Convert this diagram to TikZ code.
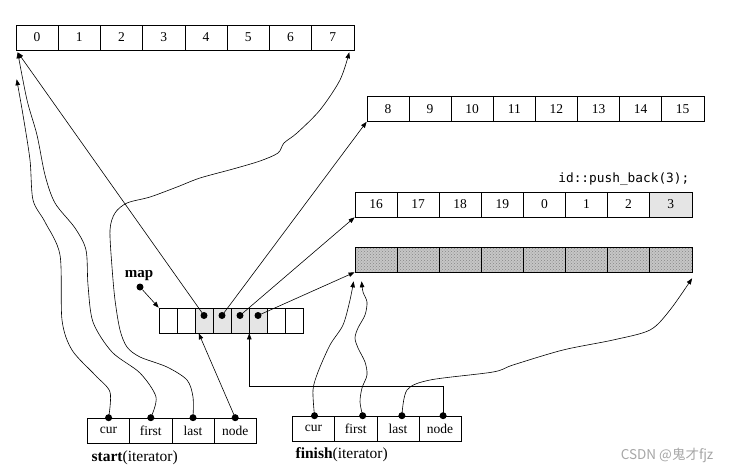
\documentclass[tikz,border=0pt]{standalone}
\usepackage{fontspec}
\setmainfont{Liberation Serif}
\setmonofont{DejaVu Sans Mono}
\newfontfamily\cjk{Noto Sans CJK SC}
\usetikzlibrary{arrows.meta, positioning, patterns, calc}

\begin{document}
\begin{tikzpicture}[x=1pt,y=-1pt,line width=0.6pt,
  >={Triangle[length=6pt,width=4.5pt]},
  cell/.style={draw,minimum width=42.2pt,minimum height=25pt,inner sep=0pt,font=\fontsize{13.5}{14}\selectfont},
  mcell/.style={draw,minimum width=18pt,minimum height=25pt,inner sep=0pt},
  dot/.style={circle,fill,inner sep=0pt,minimum size=7pt},
  hatch/.style={preaction={fill=gray!45},pattern=crosshatch dots,pattern color=gray!95}]
\useasboundingbox (0,0) rectangle (732,472);

% buffers
\foreach \i in {0,...,7} {
  \node[cell] (bufA\i) at ({37.1+42.25*\i},37.5) {\i};
  \node[cell] (bufB\i) at ({388+42.1*\i},109) {\the\numexpr\i+8\relax};
  \node[cell,hatch] (bufD\i) at ({376+42.1*\i},259.5) {};
}
\foreach \i/\t in {0/16,1/17,2/18,3/19,4/0,5/1,6/2}
  \node[cell] (bufC\i) at ({376+42.1*\i},204.5) {\t};
\node[cell,fill=gray!20] (bufC7) at ({376+42.1*7},204.5) {3};
\node[anchor=base east,font=\ttfamily\fontsize{12.8}{13}\selectfont] (push) at (693,182) {id::push\_back(3);};

% map
\foreach \i in {0,1,6,7} \node[mcell] (map\i) at ({168+18*\i},320.5) {};
\foreach \i in {2,...,5} {
  \node[mcell,fill=gray!20] (map\i) at ({168+18*\i},320.5) {};
  \node[dot] (md\i) at ($(map\i)+(0,-5)$) {};
}
\node[font=\bfseries\fontsize{15}{15}\selectfont] (maplbl) at (139,276) {map};
\node[dot] (mapdot) at (140,287) {};

% iterators
\foreach \i/\t in {0/cur,1/first,2/last,3/node} {
  \node[cell] (st\i) at ({108.6+42.2*\i},430.5) {\t};
  \node[cell] (fin\i) at ({313.5+42.2*\i},428.5) {\t};
  \node[dot] (sd\i) at (st\i.north) {};
}
\node[dot] (fd0) at ($(fin0.north)+(1,0)$) {};
\node[dot] (fd1) at ($(fin1.north)+(7,0)$) {};
\node[dot] (fd2) at ($(fin2.north)+(4,0)$) {};
\node[dot] (fd3) at ($(fin3.north)+(3,0)$) {};
\node[anchor=base west,font=\fontsize{15.5}{16}\selectfont] (stlbl) at (88,461) {\textbf{start}(iterator)};
\node[anchor=base west,font=\fontsize{15.5}{16}\selectfont] (finlbl) at (292,458) {\textbf{finish}(iterator)};
\node[anchor=base east,text=gray!70,font=\cjk\fontsize{13.5}{14}\selectfont] (mark) at (717,459) {CSDN @鬼才fjz};

% arrow ends
\coordinate (aIn) at ($(bufA0.south west)+(2,2)$);
\coordinate (aCur) at ($(bufA0.south west)+(1,29)$);
\coordinate (aEnd) at ($(bufA7.south east)+(-5,2)$);
\coordinate (dCur) at ($(bufD0.south west)+(-1,9)$);
\coordinate (dFirst) at ($(bufD0.south west)+(7,9)$);
\coordinate (dEnd) at ($(bufD7.south east)+(0,6)$);
\coordinate (mIn) at ($(map2.south west)+(4,0)$);

\draw[->] (mapdot) -- (map0.north west);
\draw[->] (md2.center) -- (aIn);
\draw[->] (md3.center) -- (bufB0.south west);
\draw[->] (md4.center) -- (bufC0.south west);
\draw[->] (md5.center) -- (bufD0.south west);
\draw[->] (sd3.center) -- (mIn);
\draw[->] (fd3.center) -- ++(0,-29) -| (map4.south east);

\draw[->] plot[smooth] coordinates {(sd0.center) (110,392) (95,375) (72,350) (62,320) (60,255) (45,222) (33,200) (30,160) (23,115) (aCur)};
\draw[->] plot[smooth] coordinates {(sd1.center) (156,397) (140,373) (112,352) (93,322) (88,285) (86,250) (75,228) (55,203) (45,175) (37,135) (27,100) (aIn)};
\draw[->] plot[smooth] coordinates {(sd2.center) (193,397) (187,380) (167,367) (140,357) (127,347) (120,330) (115,300) (112,267) (110,230) (115,213) (127,203) (150,197) (177,187) (200,178) (233,169) (260,161) (278,153) (284,143) (297,133) (320,110) (340,80) (aEnd)};
\draw[->] plot[smooth] coordinates {(fd0.center) (313,390) (318,372) (330,345) (343,325) (350,300) (dCur)};
\draw[->] plot[smooth] coordinates {(fd1.center) (360,402) (362,388) (367,375) (365,362) (358,348) (355,338) (358,328) (365,315) (367,302) (363,292) (dFirst)};
\draw[->] plot[smooth] coordinates {(fd2.center) (407,390) (430,380) (493,372) (513,365) (563,350) (613,340) (650,330) (670,310) (dEnd)};
\end{tikzpicture}
\end{document}
